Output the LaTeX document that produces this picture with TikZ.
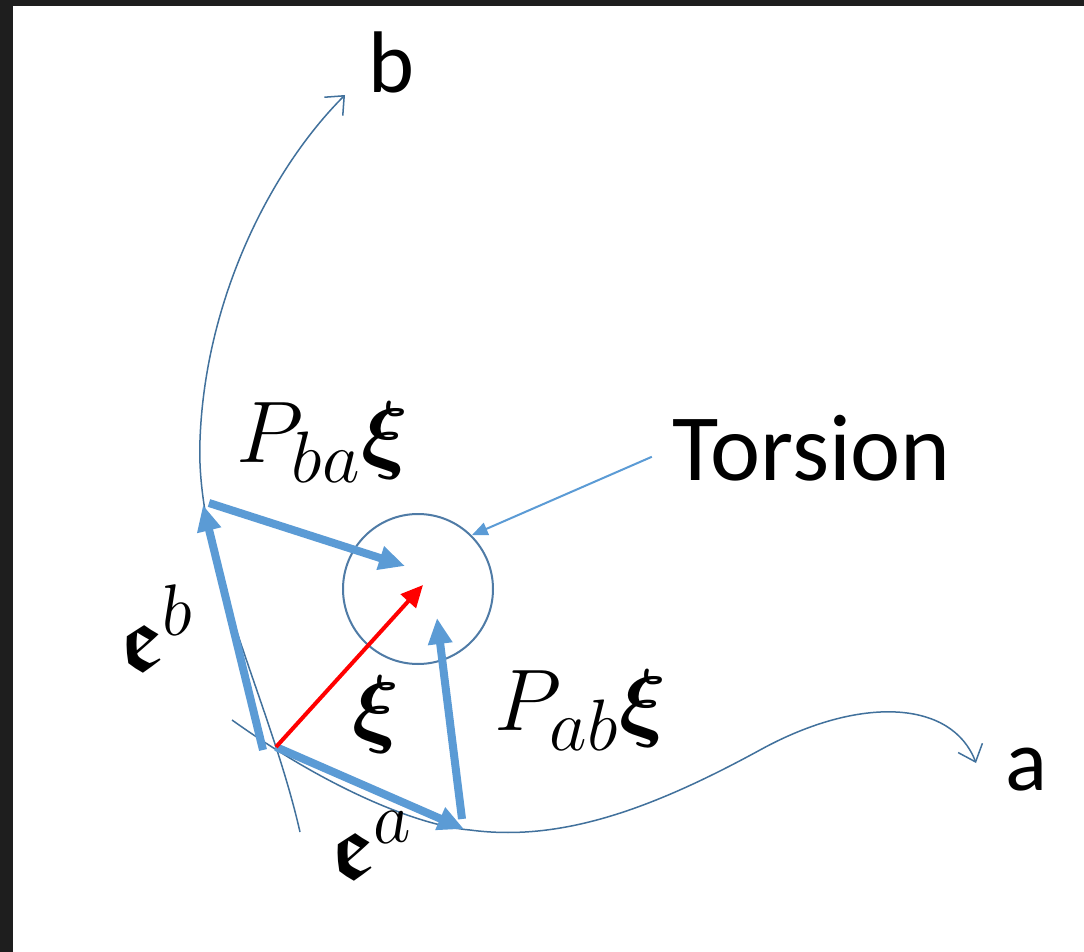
\documentclass[tikz,border=0pt]{standalone}
\usepackage{amsmath,amssymb,amsfonts}
\usepackage{bm}
\usepackage{fontspec}
\newfontfamily\calibri{Carlito}
\usepackage{tikz}
\usetikzlibrary{arrows.meta,positioning}
\definecolor{vecblue}{HTML}{5B9BD5}
\definecolor{curveblue}{HTML}{41719C}
\definecolor{ringblue}{HTML}{4F7BA6}
\definecolor{frame}{HTML}{1E1E1E}
\DeclareMathSizes{27}{27}{22.4}{18}

\tikzset{
  vec/.style={vecblue, line width=0.8mm, -{Triangle[length=2.6mm,width=2.3mm]}},
  curve/.style={curveblue, line width=0.15mm},
  lbl/.style={inner sep=0, font=\calibri\Huge},
  mlbl/.style={inner sep=0, font=\fontsize{27}{32}\selectfont}
}

\begin{document}
\begin{tikzpicture}[x=0.1mm, y=-0.1mm]
  \useasboundingbox (0,0) rectangle (1084,952);
  \fill[frame] (0,0) rectangle (1084,952);
  \fill[white] (13,6) rectangle (1084,952);

  \coordinate (O) at (276,747);
  \coordinate (Ob) at (263,750);
  \coordinate (A) at (464,829);
  \coordinate (B) at (203,505);
  \coordinate (Bs) at (209,503);
  \coordinate (Ab) at (462,819);
  \node[circle, draw=ringblue, line width=0.2mm, minimum size=15mm, inner sep=0] (circ) at (418,589) {};

  % curvas a y b
  \coordinate (b0) at (300,832);
  \coordinate (b1) at (345,95);
  \coordinate (a0) at (232,720);
  \coordinate (a1) at (976,763);
  \draw[curve, -{Straight Barb[length=1.5mm,width=2.6mm]}] (b0) .. controls (270,700) and (195,560) .. (200,440)
    .. controls (205,300) and (270,170) .. (b1);
  \draw[curve, -{Straight Barb[length=1.5mm,width=2.6mm]}] (a0) .. controls (330,790) and (420,826) .. (470,830)
    .. controls (560,842) and (650,810) .. (760,750) .. controls (860,695) and (952,700) .. (a1);

  \node[lbl, anchor=base west] (lb) at (368,93) {b};
  \node[lbl, anchor=base west] (la) at (1005,790) {a};

  % vectores
  \draw[vec] (Ob) -- (B);
  \draw[vec] (O) -- (A);
  \draw[vec] (Bs) -- (405,566) coordinate (Pba);
  \draw[vec] (Ab) -- (437,618) coordinate (Pab);
  \draw[red, line width=0.4mm, -{Triangle[length=2.2mm,width=2mm]}] (O) -- (423,585) coordinate (X);

  % torsion
  \node[lbl, font=\calibri\fontsize{27}{32}\selectfont, anchor=west] (torsion) at (672,448) {Torsion};
  \draw[vecblue, line width=0.2mm, -{Triangle[length=1.6mm,width=1.3mm]}, shorten <=2.2mm] (torsion.west) -- (circ.45);

  % etiquetas
  \node[mlbl, anchor=base west] (lPba) at (236,462) {$P_{ba}\bm{\xi}$};
  \node[mlbl, anchor=base west] (lPab) at (494,730) {$P_{ab}\bm{\xi}$};
  \node[mlbl, anchor=base west] (lxi) at (352,736) {$\bm{\xi}$};
  \node[mlbl, rotate=5] (leb) at (156,628) {$\bm{\mathfrak{e}}^{b}$};
  \node[mlbl, rotate=5] (lea) at (372,845) {$\bm{\mathfrak{e}}^{a}$};
\end{tikzpicture}
\end{document}
